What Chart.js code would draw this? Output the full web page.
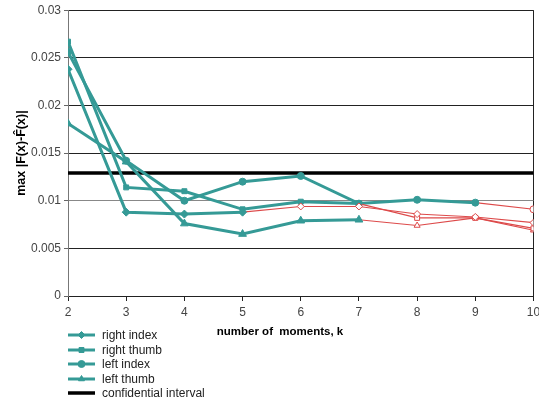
<!DOCTYPE html>
<html lang="en">
<head>
    <meta charset="UTF-8">
    <title>max |F(x)-F̂(x)| vs number of moments</title>
    <script src="https://cdn.jsdelivr.net/npm/chart.js"></script>
    <style>
        body { margin: 0; background: #fff; }
    </style>
</head>
<body>
    <canvas id="chart" width="539" height="405"></canvas>
    <script>
        // number of moments k
        const moments = [2, 3, 4, 5, 6, 7, 8, 9, 10];

        // series values
        const rightIndex = [0.0238, 0.0088, 0.0086, 0.0088, 0.0094, 0.0094, 0.0086, 0.0083, 0.0077];
        const rightThumb = [0.0267, 0.0114, 0.0110, 0.0091, 0.0099, 0.0097, 0.0082, 0.0082, 0.0071];
        const leftIndex  = [0.0256, 0.0142, 0.0100, 0.0120, 0.0126, 0.0097, 0.0101, 0.0098, 0.0091];
        const leftThumb  = [0.0181, 0.0141, 0.0076, 0.0065, 0.0079, 0.0080, 0.0074, 0.0082, 0.0069];
        // last index drawn in the thick teal style, after that thin red
        const tealUntil  = {rightIndex: 3, rightThumb: 5, leftIndex: 7, leftThumb: 5};

        const confidence = 0.0129;
        const yTicks = [0, 0.005, 0.01, 0.015, 0.02, 0.025, 0.03];

        const teal = '#359a96';
        const red  = '#dd4a4a';
        const FONT = "'Liberation Sans', Arial, sans-serif";

        function series(label, values, split, style, radius) {
            return {
                label            : label,
                data             : moments.map((k, i) => ({x: k, y: values[i]})),
                borderColor      : teal,
                borderWidth      : 3,
                pointStyle       : style,
                pointRadius      : ctx => ctx.dataIndex > split ? 3.5 : radius,
                pointBackgroundColor : ctx => ctx.dataIndex > split ? '#ffffff' : teal,
                pointBorderColor : ctx => ctx.dataIndex > split ? red : teal,
                pointBorderWidth : 1,
                segment          : {
                    borderColor : ctx => ctx.p0DataIndex >= split ? red : teal,
                    borderWidth : ctx => ctx.p0DataIndex >= split ? 1.1 : 3
                },
                tension          : 0
            };
        }

        const datasets = [
            series('right index', rightIndex, tealUntil.rightIndex, 'rectRot', 4),
            series('right thumb', rightThumb, tealUntil.rightThumb, 'rect', 3.5),
            series('left index',  leftIndex,  tealUntil.leftIndex,  'circle', 3.5),
            series('left thumb',  leftThumb,  tealUntil.leftThumb,  'triangle', 4.5),
            {
                label       : 'confidential interval',
                data        : [{x: moments[0], y: confidence}, {x: moments[moments.length - 1], y: confidence}],
                borderColor : '#000000',
                borderWidth : 3.5,
                pointRadius : 0
            }
        ];

        // x axis title and the legend below the plot
        const extras = {
            id: 'extras',
            afterDraw(chart) {
                const c = chart.ctx;
                c.save();
                c.fillStyle = '#000';
                c.font = 'bold 11.5px ' + FONT;
                c.textAlign = 'center';
                c.textBaseline = 'middle';
                c.fillText('number of  moments, k', 280, 332);

                c.font = '12px ' + FONT;
                c.textAlign = 'left';
                const rows = [335, 350, 364, 379, 393];
                chart.data.datasets.forEach((ds, i) => {
                    const y = rows[i];
                    c.strokeStyle = ds.borderColor;
                    c.lineWidth = i === 4 ? 3.5 : 3;
                    c.beginPath();
                    c.moveTo(68, y);
                    c.lineTo(95, y);
                    c.stroke();
                    if (i < 4) {
                        c.fillStyle = teal;
                        c.strokeStyle = teal;
                        c.lineWidth = 1;
                        Chart.helpers.drawPoint(c, {pointStyle: ds.pointStyle, radius: 3.5, rotation: 0, borderWidth: 1}, 81.5, y);
                    }
                    c.fillStyle = '#222';
                    c.fillText(ds.label, 102, y + 1);
                });
                c.restore();
            }
        };

        new Chart(document.getElementById('chart'), {
            type: 'line',
            data: {datasets: datasets},
            options: {
                responsive : false,
                animation  : false,
                layout     : {padding: {top: 6, right: 0, left: 10, bottom: 64}},
                plugins    : {legend: {display: false}, tooltip: {enabled: false}},
                scales     : {
                    x : {
                        type   : 'linear',
                        min    : 2,
                        max    : 10,
                        afterBuildTicks : s => { s.ticks = moments.map(v => ({value: v})); },
                        grid   : {
                            color      : ctx => ctx.tick && ctx.tick.value === 10 ? '#222' : 'rgba(0,0,0,0)',
                            tickColor  : '#222',
                            tickLength : 5
                        },
                        border : {color: '#222', width: 1},
                        ticks  : {color: '#444', font: {family: FONT, size: 12}, padding: 4, maxRotation: 0},
                        title  : {display: false},
                        afterFit : s => { s.height = 45; s.paddingRight = 0; s.paddingLeft = 0; }
                    },
                    y : {
                        min    : 0,
                        max    : 0.03,
                        afterBuildTicks : s => { s.ticks = yTicks.map(v => ({value: v})); },
                        grid   : {
                            color      : ctx => ctx.tick && Math.abs(ctx.tick.value - 0.01) < 1e-9 ? '#888' : '#222',
                            tickColor  : '#666',
                            tickLength : 4
                        },
                        border : {color: '#777', width: 1},
                        ticks  : {
                            color    : '#444',
                            font     : {family: FONT, size: 12},
                            padding  : 3,
                            callback : v => String(+v.toFixed(3))
                        },
                        title  : {
                            display : true,
                            text    : 'max |F(x)-F\u0302(x)|',
                            color   : '#000',
                            font    : {family: FONT, size: 12.5, weight: 'bold'},
                            padding : {top: 4, bottom: 4}
                        },
                        afterFit : s => { s.width = 58; }
                    }
                }
            },
            plugins: [extras]
        });
    </script>
</body>
</html>
